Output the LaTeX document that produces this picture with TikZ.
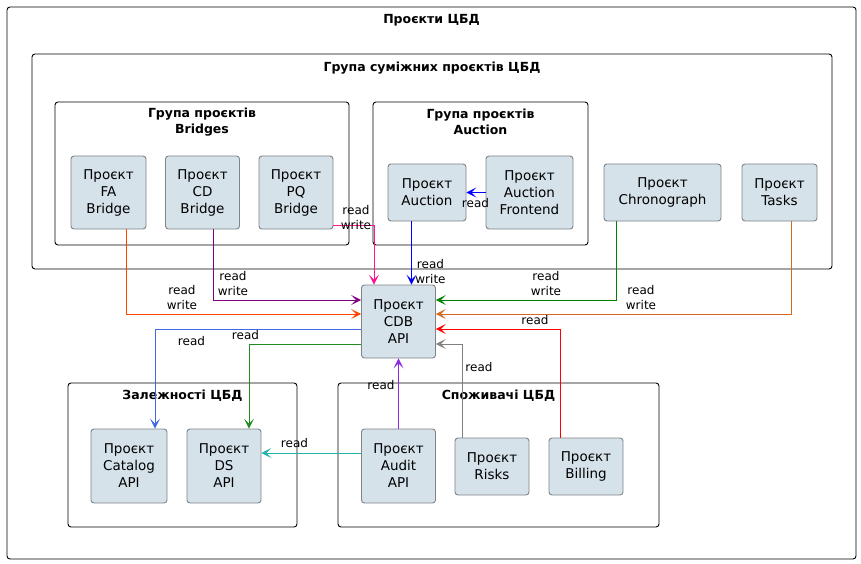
\documentclass[tikz,border=0pt]{standalone}
\usepackage{fontspec}
\setmainfont{DejaVu Sans}
\usetikzlibrary{arrows.meta}
\definecolor{nodefill}{HTML}{D6E2EA}
\definecolor{nodeline}{HTML}{7F8488}
\definecolor{cFA}{HTML}{FF4500}
\definecolor{cCD}{HTML}{800080}
\definecolor{cPQ}{HTML}{FF1493}
\definecolor{cAU}{HTML}{0000FF}
\definecolor{cCH}{HTML}{008000}
\definecolor{cTA}{HTML}{D2691E}
\definecolor{cBI}{HTML}{FF0000}
\definecolor{cRI}{HTML}{808080}
\definecolor{cAD}{HTML}{8A2BE2}
\definecolor{cCA}{HTML}{4169E1}
\definecolor{cDS}{HTML}{228B22}
\definecolor{cAS}{HTML}{20B2AA}
\tikzset{
  proj/.style={draw=nodeline, fill=nodefill, line width=0.9pt, rounded corners=3pt,
    align=center, inner sep=0pt, font=\fontsize{13.5}{17}\selectfont},
  grp/.style={draw=black, fill=white, line width=0.9pt, rounded corners=3pt, inner sep=0pt},
  grptitle/.style={align=center, inner sep=0pt, font=\fontsize{12.5}{16}\selectfont\bfseries},
  lbl/.style={align=center, inner sep=0pt, font=\fontsize{12}{15}\selectfont},
  conn/.style={line width=0.9pt, -{Stealth[length=10pt,width=10pt,inset=5pt]}},
}
\begin{document}
\begin{tikzpicture}[x=1pt,y=-1pt]
\useasboundingbox (0,0) rectangle (861,564);
% groups
\node[grp, minimum width=849pt, minimum height=552pt] (outer) at (431.5,283) {};
\node[grptitle] (outert) at (431.5,20) {Проєкти ЦБД};
\node[grp, minimum width=800pt, minimum height=215pt] (adj) at (432,161.5) {};
\node[grptitle] (adjt) at (432,68) {Група суміжних проєктів ЦБД};
\node[grp, minimum width=294pt, minimum height=143pt] (bri) at (202,173.5) {};
\node[grptitle] (brit) at (202,122) {Група проєктів\\Bridges};
\node[grp, minimum width=215pt, minimum height=143pt] (aucg) at (480.5,173.5) {};
\node[grptitle] (aucgt) at (480.5,122) {Група проєктів\\Auction};
\node[grp, minimum width=229pt, minimum height=144pt] (dep) at (182.5,455) {};
\node[grptitle] (dept) at (182.5,396) {Залежності ЦБД};
\node[grp, minimum width=321pt, minimum height=144pt] (cons) at (498.5,455) {};
\node[grptitle] (const) at (498.5,396) {Споживачі ЦБД};
% projects
\node[proj, minimum width=75pt, minimum height=73pt] (fa) at (108.5,192.5) {Проєкт\\FA\\Bridge};
\node[proj, minimum width=74pt, minimum height=73pt] (cd) at (202.5,192.5) {Проєкт\\CD\\Bridge};
\node[proj, minimum width=74pt, minimum height=73pt] (pq) at (296,192.5) {Проєкт\\PQ\\Bridge};
\node[proj, minimum width=78pt, minimum height=57pt] (auc) at (427,192.5) {Проєкт\\Auction};
\node[proj, minimum width=87pt, minimum height=73pt] (aucf) at (529.5,192.5) {Проєкт\\Auction\\Frontend};
\node[proj, minimum width=117pt, minimum height=57pt] (chr) at (662.5,192.5) {Проєкт\\Chronograph};
\node[proj, minimum width=75pt, minimum height=57pt] (tasks) at (779.5,192.5) {Проєкт\\Tasks};
\node[proj, minimum width=74pt, minimum height=73pt] (cdb) at (398.5,321.5) {Проєкт\\CDB\\API};
\node[proj, minimum width=76pt, minimum height=74pt] (cat) at (129,466) {Проєкт\\Catalog\\API};
\node[proj, minimum width=74pt, minimum height=74pt] (ds) at (224,466) {Проєкт\\DS\\API};
\node[proj, minimum width=74pt, minimum height=74pt] (aud) at (398.5,466) {Проєкт\\Audit\\API};
\node[proj, minimum width=74pt, minimum height=57pt] (risks) at (492,466.5) {Проєкт\\Risks};
\node[proj, minimum width=74pt, minimum height=57pt] (bill) at (586,466.5) {Проєкт\\Billing};
% connectors
\draw[conn, cFA] ([xshift=17.5pt]fa.south) |- ([yshift=7.5pt]cdb.west);
\draw[conn, cCD] ([xshift=10.5pt]cd.south) |- ([yshift=21.5pt]cdb.west);
\draw[conn, cPQ] ([yshift=-32.5pt]pq.east) -| ([xshift=-24.5pt]cdb.north);
\draw[conn, cAU] ([xshift=-15.5pt]auc.south) -- ([xshift=-15.5pt]auc.south |- cdb.north);
\draw[conn, cAU] (aucf.west) -- (aucf.west -| auc.east);
\draw[conn, cCH] ([xshift=-46.5pt]chr.south) |- ([yshift=21.5pt]cdb.east);
\draw[conn, cTA] ([xshift=11.5pt]tasks.south) |- ([yshift=7.5pt]cdb.east);
\draw[conn, cBI] ([xshift=-26pt]bill.north) |- ([yshift=-7.5pt]cdb.east);
\draw[conn, cRI] ([xshift=-30pt]risks.north) |- ([yshift=-22.5pt]cdb.east);
\draw[conn, cAD] (aud.north) -- (aud.north |- cdb.south);
\draw[conn, cCA] ([yshift=-7.5pt]cdb.west) -| ([xshift=26pt]cat.north);
\draw[conn, cDS] ([yshift=-22.5pt]cdb.west) -| ([xshift=25pt]ds.north);
\draw[conn, cAS] ([yshift=13pt]aud.west) -- ([yshift=13pt]aud.west -| ds.east);
% labels
\node[lbl] (lfa) at (182,297.5) {read\\write};
\node[lbl] (lcd) at (233,283.5) {read\\write};
\node[lbl] (lpq) at (356,217.5) {read\\write};
\node[lbl] (lau) at (430.5,272) {read\\write};
\node[lbl] (laf) at (475.5,203) {read};
\node[lbl] (lch) at (546,283.5) {read\\write};
\node[lbl] (lta) at (641,297.5) {read\\write};
\node[lbl] (lbi) at (535,320) {read};
\node[lbl] (lri) at (479,367) {read};
\node[lbl] (lad) at (381,385) {read};
\node[lbl] (lca) at (191.5,341) {read};
\node[lbl] (lds) at (245.5,335) {read};
\node[lbl] (las) at (294.5,443) {read};
\end{tikzpicture}
\end{document}
